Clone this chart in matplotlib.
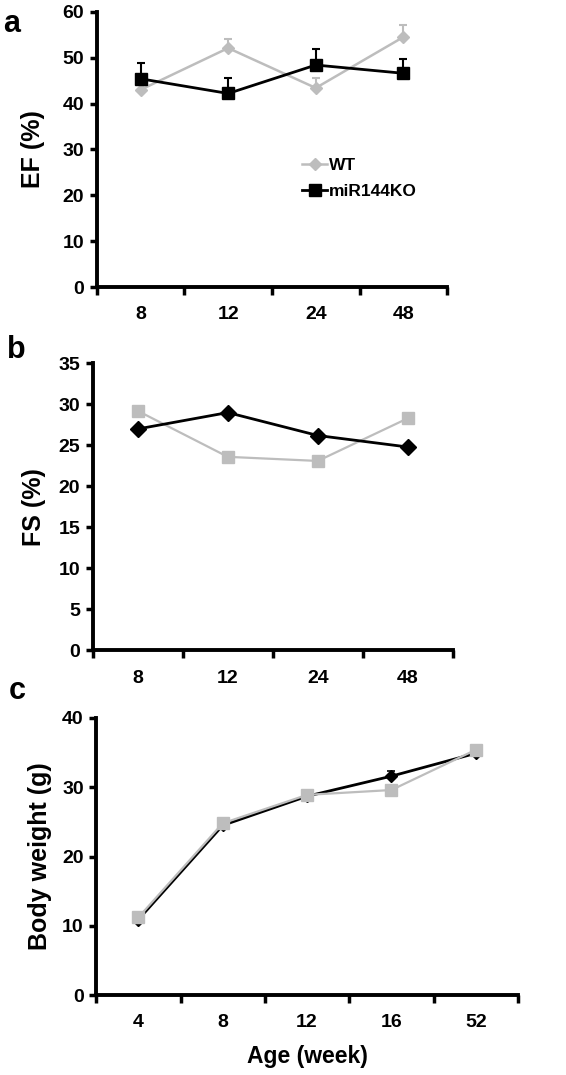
import matplotlib.pyplot as plt
import numpy as np
from matplotlib.lines import Line2D

plt.rcParams['font.family'] = ['Liberation Sans', 'DejaVu Sans']
plt.rcParams['font.weight'] = 'bold'

GRAY = "#bdbdbd"

# panel a: EF (%)
ef_ages = ["8", "12", "24", "48"]
ef_wt = [43.0, 52.1, 43.4, 54.5]
ef_wt_err = [0.0, 2.0, 2.1, 2.7]
ef_ko = [45.4, 42.2, 48.4, 46.6]
ef_ko_err = [3.4, 3.3, 3.4, 3.1]

# panel b: FS (%)
fs_ages = ["8", "12", "24", "48"]
fs_ko = [27.0, 29.0, 26.2, 24.8]
fs_wt = [29.2, 23.6, 23.1, 28.3]

# panel c: body weight (g)
bw_ages = ["4", "8", "12", "16", "52"]
bw_ko = [10.9, 24.5, 28.7, 31.6, 34.9]
bw_ko_err = [0.0, 0.0, 0.0, 0.8, 0.0]
bw_wt = [11.2, 24.8, 28.9, 29.6, 35.4]


def style_axis(ax, labels, ymax, ystep, ylabel, lpad, ysize=18):
    n = len(labels)
    ax.set_xlim(-0.5, n - 0.5)
    ax.set_ylim(0, ymax)
    ax.set_yticks(np.arange(0, ymax + 0.1, ystep))
    ax.set_xticks(np.arange(-0.5, n, 1.0))
    ax.set_xticklabels([])
    ax.set_xticks(np.arange(n), minor=True)
    ax.set_xticklabels(labels, minor=True)
    ax.tick_params(axis="x", which="major", direction="out", length=6, width=2.5)
    ax.tick_params(axis="x", which="minor", length=0, pad=14, labelsize=14)
    ax.tick_params(axis="y", direction="out", length=5, width=2.5, labelsize=14, pad=4)
    for lab in ax.get_xticklabels(minor=True) + ax.get_yticklabels():
        lab.set_fontweight("bold")
    for s in ["top", "right"]:
        ax.spines[s].set_visible(False)
    for s in ["left", "bottom"]:
        ax.spines[s].set_linewidth(2.8)
    ax.set_ylabel(ylabel, fontsize=ysize, fontweight="bold", labelpad=lpad)


fig = plt.figure(figsize=(5.66, 10.75), dpi=100)

# a
ax1 = fig.add_axes([0.171, 0.733, 0.619, 0.256])
x = np.arange(len(ef_ages))
ax1.errorbar(x, ef_wt, yerr=[np.zeros(len(x)), ef_wt_err], color=GRAY, marker="D",
             markersize=6, lw=1.8, capsize=3, capthick=1.5, elinewidth=1.5, zorder=2)
ax1.errorbar(x, ef_ko, yerr=[np.zeros(len(x)), ef_ko_err], color="black", marker="s",
             markersize=8, lw=2, capsize=3, capthick=1.5, elinewidth=1.5, zorder=3)
style_axis(ax1, ef_ages, 60, 10, "EF (%)", 13)
handles = [Line2D([], [], color=GRAY, marker="D", markersize=6, lw=1.8),
           Line2D([], [], color="black", marker="s", markersize=8, lw=2)]
ax1.legend(handles, ["WT", "miR144KO"], loc="center left", bbox_to_anchor=(0.586, 0.395),
           frameon=False, prop={"weight": "bold", "size": 12.5}, handlelength=1.45,
           handletextpad=0.1, labelspacing=0.6, borderaxespad=0, borderpad=0)

# b
ax2 = fig.add_axes([0.164, 0.395, 0.636, 0.267])
x = np.arange(len(fs_ages))
ax2.plot(x, fs_wt, color=GRAY, marker="s", markersize=8, lw=1.6, zorder=2)
ax2.plot(x, fs_ko, color="black", marker="D", markersize=8, lw=2, zorder=3)
style_axis(ax2, fs_ages, 35, 5, "FS (%)", 9)

# c
ax3 = fig.add_axes([0.170, 0.0744, 0.745, 0.2577])
x = np.arange(len(bw_ages))
ax3.errorbar(x, bw_ko, yerr=[np.zeros(len(x)), bw_ko_err], color="black", marker="D",
             markersize=6, lw=2, capsize=3, capthick=1.2, elinewidth=1.2, zorder=2)
ax3.plot(x, bw_wt, color=GRAY, marker="s", markersize=8.5, lw=1.6, zorder=3)
style_axis(ax3, bw_ages, 40, 10, "Body weight (g)", 7)
ax3.set_xlabel("Age (week)", fontsize=16.5, fontweight="bold", labelpad=10)

fig.text(0.005, 0.992, "a", fontsize=22, fontweight="bold", va="top")
fig.text(0.012, 0.688, "b", fontsize=22, fontweight="bold", va="top")
fig.text(0.015, 0.371, "c", fontsize=22, fontweight="bold", va="top")

fig.savefig("out.png", dpi=100)
